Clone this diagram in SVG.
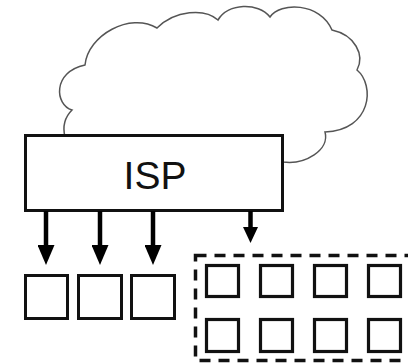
<svg xmlns="http://www.w3.org/2000/svg" width="408" height="363" viewBox="0 0 408 363">
<style>
.box{fill:#fff;stroke:#111;stroke-width:3}
.sq{fill:#fff;stroke:#111;stroke-width:3.2}
.cloud{fill:#fff;stroke:#555;stroke-width:1.5}
.conn{stroke:#000;stroke-width:4.5;fill:none}
.lbl{font-family:"Liberation Sans",Arial,sans-serif;font-size:39px;fill:#111}
</style>
<defs>
<marker id="ah" markerUnits="userSpaceOnUse" viewBox="0 0 20 17" markerWidth="20" markerHeight="17" refX="0" refY="8.5" orient="auto">
<path d="M0,0 L20,8.5 L0,17 z" fill="#000"/>
</marker>
<marker id="ah2" markerUnits="userSpaceOnUse" viewBox="0 0 16 15" markerWidth="16" markerHeight="15" refX="0" refY="7.5" orient="auto">
<path d="M0,0 L16,7.5 L0,15 z" fill="#000"/>
</marker>
</defs>
<rect width="408" height="363" fill="#fff"/>
<g id="cloud">
<path class="cloud" d="M65 137 C62 125,66 116,72 110 C55 105,52 72,85 65 C88 35,130 12,157 28 C175 10,205 8,218 20 C228 3,258 2,270 17 C280 2,320 2,332 30 C355 35,365 55,357 70 C375 85,372 130,325 132 C330 150,305 165,283 162 L283 137 Z"/>
</g>
<g id="isp">
<rect class="box" x="25.5" y="135.5" width="257" height="75"/>
<text class="lbl" x="155" y="189" text-anchor="middle">ISP</text>
</g>
<g id="connectors">
<line class="conn" x1="46" y1="211" x2="46" y2="245" marker-end="url(#ah)"/>
<line class="conn" x1="100" y1="211" x2="100" y2="245" marker-end="url(#ah)"/>
<line class="conn" x1="153" y1="211" x2="153" y2="245" marker-end="url(#ah)"/>
<line class="conn" x1="250.5" y1="211" x2="250.5" y2="227" marker-end="url(#ah2)"/>
</g>
<g id="host1"><rect class="box" x="25.5" y="275.5" width="42" height="43"/></g>
<g id="host2"><rect class="box" x="78.5" y="275.5" width="43" height="43"/></g>
<g id="host3"><rect class="box" x="131.5" y="275.5" width="43" height="43"/></g>
<g id="network">
<rect x="195.5" y="255.5" width="240" height="105" fill="none" stroke="#111" stroke-width="3.5" stroke-dasharray="11 8"/>
<rect class="sq" x="206.5" y="265.5" width="32" height="31"/>
<rect class="sq" x="260.5" y="265.5" width="32" height="31"/>
<rect class="sq" x="314.5" y="265.5" width="32" height="31"/>
<rect class="sq" x="368.5" y="265.5" width="32" height="31"/>
<rect class="sq" x="206.5" y="319.5" width="32" height="32"/>
<rect class="sq" x="260.5" y="319.5" width="32" height="32"/>
<rect class="sq" x="314.5" y="319.5" width="32" height="32"/>
<rect class="sq" x="368.5" y="319.5" width="32" height="32"/>
</g>
</svg>
